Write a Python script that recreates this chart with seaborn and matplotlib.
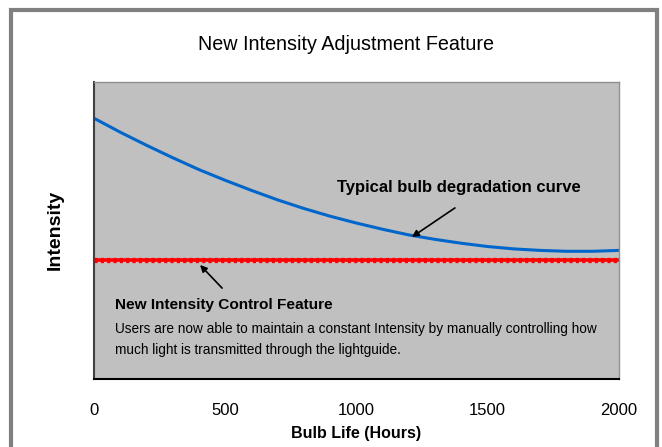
import matplotlib
matplotlib.use('Agg')
import matplotlib.pyplot as plt
import seaborn as sns
import pandas as pd
from matplotlib.patches import Rectangle

# values
hours = [0, 100, 200, 300, 400, 500, 600, 700, 800, 900, 1000,
         1100, 1200, 1300, 1400, 1500, 1600, 1700, 1800, 1900, 2000]
typical_intensity = [8.78, 8.31, 7.87, 7.45, 7.05, 6.69, 6.35, 6.03, 5.74, 5.48, 5.25,
                     5.04, 4.85, 4.70, 4.57, 4.46, 4.38, 4.33, 4.30, 4.30, 4.33]
controlled_intensity = [4.0, 4.0, 4.0, 4.0, 4.0, 4.0, 4.0, 4.0, 4.0, 4.0, 4.0,
                        4.0, 4.0, 4.0, 4.0, 4.0, 4.0, 4.0, 4.0, 4.0, 4.0]
x_ticks = [0, 500, 1000, 1500, 2000]
y_ticks = [0, 1, 2, 3, 4, 5, 6, 7, 8, 9, 10]

df = pd.DataFrame({'hours': hours, 'typical': typical_intensity,
                   'control': controlled_intensity})

sns.set_style('white')
plt.rcParams['font.family'] = ['Liberation Sans', 'DejaVu Sans']
plt.rcParams['text.color'] = 'black'
plt.rcParams['axes.labelcolor'] = 'black'
plt.rcParams['xtick.color'] = 'black'
plt.rcParams['ytick.color'] = 'black'

fig = plt.figure(figsize=(6.62, 4.47), dpi=100)
ax = fig.add_axes([94 / 662, 1 - 379 / 447, 525 / 662, 297 / 447])
ax.set_facecolor('#C0C0C0')

# outer chart frame
fig.patches.append(Rectangle((11 / 662, -0.05), 646 / 662, 1.05 - 10 / 447,
                             transform=fig.transFigure, fill=False,
                             edgecolor='#808080', linewidth=3))

sns.lineplot(data=df, x='hours', y='typical', ax=ax, color='#0066CC',
             linewidth=2.2, solid_capstyle='butt')
sns.lineplot(data=df, x='hours', y='control', ax=ax, color='#FF0000',
             linewidth=2.6, solid_capstyle='butt')
# bumpy marker pattern along the red line
ax.plot(df['hours'], df['control'], color='#FF0000', linewidth=3.8,
        linestyle=(0, (0.6, 0.6)), dash_capstyle='butt')

ax.set_xlim(0, 2000)
ax.set_ylim(0, 10)
ax.set_xticks(x_ticks)
ax.set_xticklabels([str(t) for t in x_ticks], fontsize=12)
ax.set_yticks(y_ticks)
ax.set_yticklabels([])
ax.tick_params(axis='x', direction='out', length=4, width=1, pad=13, colors='black')
ax.tick_params(axis='y', direction='out', length=3, width=1, pad=2, colors='black')

ax.spines['left'].set_color('#404040')
ax.spines['left'].set_linewidth(1.5)
ax.spines['bottom'].set_color('black')
ax.spines['bottom'].set_linewidth(1.5)
ax.spines['top'].set_color('#909090')
ax.spines['right'].set_color('#909090')
ax.spines['top'].set_linewidth(1)
ax.spines['right'].set_linewidth(1)

ax.set_xlabel('Bulb Life (Hours)', fontsize=11.5, fontweight='bold', labelpad=6)
ax.set_ylabel('')
fig.text(55 / 662, 1 - 230 / 447, 'Intensity', rotation=90, fontsize=14,
         fontweight='bold', ha='center', va='center')

fig.text(346 / 662, 1 - 45 / 447, 'New Intensity Adjustment Feature',
         fontsize=14.2, ha='center', va='center')

ax.text(926, 6.46, 'Typical bulb degradation curve', fontsize=12,
        fontweight='bold', ha='left', va='center')
ax.annotate('', xy=(1211, 4.78), xytext=(1375, 5.76),
            arrowprops=dict(arrowstyle='-|>', color='black', lw=1.2,
                            mutation_scale=10, shrinkA=0, shrinkB=0))
ax.annotate('', xy=(404, 3.84), xytext=(488, 3.06),
            arrowprops=dict(arrowstyle='-|>', color='black', lw=1.2,
                            mutation_scale=10, shrinkA=0, shrinkB=0))

ax.text(80, 2.49, 'New Intensity Control Feature', fontsize=11.1,
        fontweight='bold', ha='left', va='center')
ax.text(80, 1.68, 'Users are now able to maintain a constant Intensity by '
        'manually controlling how', fontsize=9.85, ha='left', va='center')
ax.text(80, 0.98, 'much light is transmitted through the lightguide.',
        fontsize=9.85, ha='left', va='center')

fig.savefig('out.png', dpi=100)
